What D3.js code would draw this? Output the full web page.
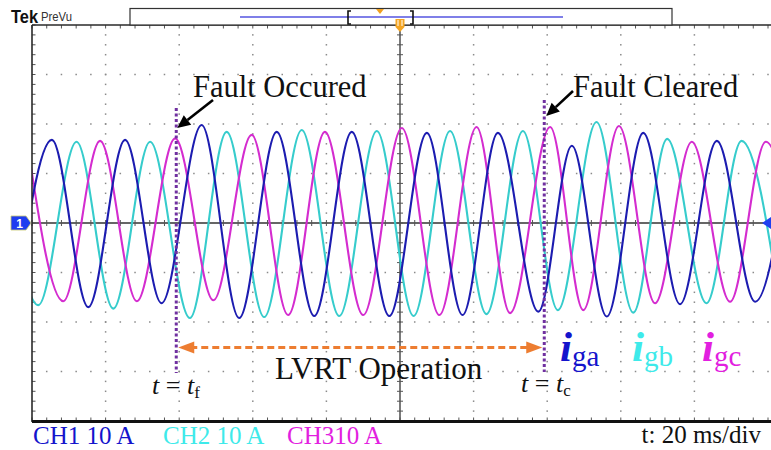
<!DOCTYPE html>
<html>
<head>
<meta charset="utf-8">
<script src="https://cdn.jsdelivr.net/npm/d3@7"></script>
<style>
  html, body { margin: 0; padding: 0; background: #fff; }
  svg { display: block; }
</style>
</head>
<body>
<svg id="scope" width="771" height="450"></svg>
<script>
// Time base 20 ms/div over 10 divisions, 10 A/div over 8 divisions
const timeDomain = [-100, 100];
const currentDomain = [-40, 40];

// Fault inception and clearing instants (ms)
const faultStart = -60.8;
const faultClear = 39.2;

// Grid currents: successive peaks and troughs of each phase, [time ms, current A]
const igaExtrema = [
  [-104.5, -17.0], [-94.6, 16.8], [-84.7, -17.0], [-74.7, 16.8], [-64.8, -16.2],
  [-53.9, 19.8], [-43.7, -19.2], [-33.5, 18.4], [-23.3, -18.8], [-13.1, 18.4],
  [-2.9, -18.8], [7.3, 18.2], [17.0, -18.6], [26.6, 18.2], [37.6, -17.9],
  [46.7, 15.6], [56.2, -18.9], [66.1, 18.2], [76.1, -16.4], [86.1, 16.6],
  [96.5, -15.9], [106.3, 16.5]
];
const igbExtrema = [
  [-108.0, 16.5], [-98.3, -16.6], [-87.9, 16.4], [-77.9, -17.3], [-67.9, 16.4],
  [-57.1, -19.2], [-47.1, 18.4], [-36.9, -19.0], [-26.7, 18.8], [-16.5, -18.8],
  [-6.3, 18.6], [3.7, -18.8], [13.6, 18.6], [23.5, -18.4], [33.4, 18.6],
  [42.9, -17.6], [53.4, 20.4], [63.4, -18.1], [72.6, 17.0], [83.3, -16.2],
  [92.8, 16.6], [103.2, -16.2]
];
const igcExtrema = [
  [-101.4, 16.8], [-91.5, -15.8], [-81.5, 16.6], [-71.5, -15.8], [-61.1, 17.1],
  [-50.7, -15.6], [-40.3, 17.8], [-30.4, -18.6], [-20.4, 18.4], [-10.0, -18.6],
  [0.5, 19.2], [10.7, -18.6], [20.8, 19.4], [29.9, -18.2], [40.8, 19.4],
  [49.8, -17.6], [59.5, 19.6], [69.3, -16.2], [79.3, 16.4], [89.7, -15.9],
  [99.4, 16.4], [109.5, -15.9]
];

const channelLabels = ["CH1 10 A", "CH2 10 A", "CH310 A"];
const timebaseLabel = "t: 20 ms/div";

const colors = {
  iga: "#1c1cb0", igb: "#36cccc", igc: "#d42ccf",
  ch1: "#1414cc", ch2: "#3eeaea", ch3: "#e21fe0",
  grid: "#8a8a8a", frame: "#2a2a2a", fault: "#7030a0", span: "#ed7d31"
};

const plot = { left: 32, right: 768, top: 25, bottom: 421 };
const hDiv = 10, vDiv = 8, sub = 5;

const svg = d3.select("#scope");
const x = d3.scaleLinear().domain(timeDomain).range([plot.left, plot.right]);
const y = d3.scaleLinear().domain(currentDomain).range([plot.bottom, plot.top]);
const serif = "'Liberation Serif', 'Times New Roman', serif";
const sans = "'Liberation Sans', Arial, sans-serif";

// ---- graticule dots ----
const grid = svg.append("g");
const xMajor = d3.range(1, hDiv).map(i => x(timeDomain[0] + i * 20));
const yMajor = d3.range(1, vDiv).map(j => y(currentDomain[0] + j * 10));
const xMinor = d3.range(0, hDiv * sub + 1).map(i => x(timeDomain[0] + i * 4));
const yMinor = d3.range(0, vDiv * sub + 1).map(j => y(currentDomain[0] + j * 2));
xMajor.forEach((gx, i) => {
  if (i === 4) return;
  grid.selectAll(null).data(yMinor.slice(1, -1)).join("rect")
    .attr("x", gx - 0.75).attr("y", d => d - 0.75).attr("width", 1.5).attr("height", 1.5)
    .attr("fill", colors.grid);
});
yMajor.forEach((gy, j) => {
  if (j === 3) return;
  grid.selectAll(null).data(xMinor.slice(1)).join("rect")
    .attr("x", d => d - 0.75).attr("y", gy - 0.75).attr("width", 1.5).attr("height", 1.5)
    .attr("fill", colors.grid);
});

// ---- centre cross with fine ticks ----
const cx = x(0), cy = y(0);
grid.append("line").attr("x1", plot.left).attr("x2", plot.right).attr("y1", cy).attr("y2", cy)
  .attr("stroke", "#333").attr("stroke-width", 1.3);
grid.append("line").attr("x1", cx).attr("x2", cx).attr("y1", plot.top).attr("y2", plot.bottom)
  .attr("stroke", "#333").attr("stroke-width", 1.3);
grid.selectAll(null).data(xMinor).join("line")
  .attr("x1", d => d).attr("x2", d => d).attr("y1", cy - 3).attr("y2", cy + 3)
  .attr("stroke", "#555").attr("stroke-width", 1);
grid.selectAll(null).data(yMinor).join("line")
  .attr("y1", d => d).attr("y2", d => d).attr("x1", cx - 3).attr("x2", cx + 3)
  .attr("stroke", "#555").attr("stroke-width", 1);

// ---- frame ticks ----
grid.selectAll(null).data(xMinor).join("line")
  .attr("x1", d => d).attr("x2", d => d).attr("y1", plot.top).attr("y2", plot.top + 3.5)
  .attr("stroke", "#555").attr("stroke-width", 1);
grid.selectAll(null).data(xMinor).join("line")
  .attr("x1", d => d).attr("x2", d => d).attr("y1", plot.bottom - 3.5).attr("y2", plot.bottom)
  .attr("stroke", "#555").attr("stroke-width", 1);
grid.selectAll(null).data(yMinor).join("line")
  .attr("y1", d => d).attr("y2", d => d).attr("x1", plot.left).attr("x2", plot.left + 3.5)
  .attr("stroke", "#555").attr("stroke-width", 1);

// ---- traces ----
svg.append("clipPath").attr("id", "screen").append("rect")
  .attr("x", plot.left).attr("y", plot.top).attr("width", 771 - plot.left).attr("height", plot.bottom - plot.top);
const line = d3.line().x(d => x(d[0])).y(d => y(d[1])).curve(d3.curveMonotoneX);
const traces = svg.append("g").attr("clip-path", "url(#screen)");
[[igbExtrema, colors.igb], [igcExtrema, colors.igc], [igaExtrema, colors.iga]].forEach(([data, c]) => {
  traces.append("path").datum(data).attr("d", line)
    .attr("fill", "none").attr("stroke", c).attr("stroke-width", 2.1)
    .attr("stroke-linejoin", "round");
});

// ---- frame ----
svg.append("line").attr("x1", plot.left).attr("x2", plot.left).attr("y1", plot.top).attr("y2", plot.bottom + 1)
  .attr("stroke", colors.frame).attr("stroke-width", 1.6);
svg.append("line").attr("x1", plot.left).attr("x2", 771).attr("y1", plot.top).attr("y2", plot.top)
  .attr("stroke", colors.frame).attr("stroke-width", 1.3);
svg.append("line").attr("x1", plot.left).attr("x2", 771).attr("y1", plot.bottom + 0.5).attr("y2", plot.bottom + 0.5)
  .attr("stroke", "#111").attr("stroke-width", 3);

// ---- header: logo and record bar ----
svg.append("text").attr("x", 11).attr("y", 23).text("Tek")
  .attr("font-family", sans).attr("font-weight", "bold").attr("font-size", 18)
  .attr("textLength", 27).attr("lengthAdjust", "spacingAndGlyphs").attr("fill", "#111");
svg.append("text").attr("x", 41).attr("y", 21).text("PreVu")
  .attr("font-family", sans).attr("font-size", 13)
  .attr("textLength", 31).attr("lengthAdjust", "spacingAndGlyphs").attr("fill", "#333");
svg.append("rect").attr("x", 130).attr("y", 8.5).attr("width", 542).attr("height", 16.5)
  .attr("fill", "#fff").attr("stroke", "#333").attr("stroke-width", 1.2);
svg.append("line").attr("x1", 240).attr("x2", 563).attr("y1", 17).attr("y2", 17)
  .attr("stroke", "#5454e0").attr("stroke-width", 1.5);
[[348, 1], [413, -1]].forEach(([bx, dir]) => {
  svg.append("path")
    .attr("d", `M${bx + 3 * dir},11 H${bx} V24 H${bx + 3 * dir}`)
    .attr("fill", "none").attr("stroke", "#111").attr("stroke-width", 1.6);
});
svg.append("path").attr("d", "M376,9 L384,9 L380,14 Z").attr("fill", "#f0a020");
svg.append("path").attr("d", `M${cx - 4.5},19 h9 v8 l-4.5,5 l-4.5,-5 Z`).attr("fill", "#f5a623");
svg.append("path").attr("d", `M${cx - 2},20 v6 M${cx + 2},20 v6`).attr("stroke", "#fff").attr("stroke-width", 1);

// ---- channel / level markers ----
svg.append("path").attr("d", `M11,${cy - 7} H26 L31,${cy} L26,${cy + 7} H11 Z`)
  .attr("fill", "#1e3cf0").attr("stroke", "#c8c870").attr("stroke-width", 0.8);
svg.append("text").attr("x", 19.5).attr("y", cy + 4.5).attr("text-anchor", "middle").text("1")
  .attr("font-family", sans).attr("font-weight", "bold")
  .attr("font-size", 12).attr("fill", "#fff");
svg.append("path").attr("d", `M762,${cy} L771,${cy - 6} L771,${cy + 6} Z`).attr("fill", "#2040f0");

// ---- fault instants ----
const xf = x(faultStart), xc = x(faultClear);
svg.append("line").attr("x1", xf).attr("x2", xf).attr("y1", 108).attr("y2", 373)
  .attr("stroke", colors.fault).attr("stroke-width", 3).attr("stroke-dasharray", "3,2.5");
svg.append("line").attr("x1", xc).attr("x2", xc).attr("y1", 100).attr("y2", 372)
  .attr("stroke", colors.fault).attr("stroke-width", 3).attr("stroke-dasharray", "3,2.5");

// LVRT span arrow
const ay = 347.5;
svg.append("line").attr("x1", xf + 14).attr("x2", xc - 14).attr("y1", ay).attr("y2", ay)
  .attr("stroke", colors.span).attr("stroke-width", 3).attr("stroke-dasharray", "7,4");
svg.append("path").attr("d", `M${xf + 2},${ay} L${xf + 18},${ay - 6} L${xf + 18},${ay + 6} Z`).attr("fill", colors.span);
svg.append("path").attr("d", `M${xc - 2},${ay} L${xc - 18},${ay - 6} L${xc - 18},${ay + 6} Z`).attr("fill", colors.span);

// callout arrows
function callout(x1, y1, x2, y2) {
  const a = Math.atan2(y2 - y1, x2 - x1), L = 13, W = 6;
  const bx = x2 - L * Math.cos(a), by = y2 - L * Math.sin(a);
  svg.append("line").attr("x1", x1).attr("y1", y1).attr("x2", bx).attr("y2", by)
    .attr("stroke", "#000").attr("stroke-width", 2.6);
  svg.append("path").attr("d",
    `M${x2},${y2} L${bx + W * Math.sin(a)},${by - W * Math.cos(a)} L${bx - W * Math.sin(a)},${by + W * Math.cos(a)} Z`)
    .attr("fill", "#000");
}
callout(213, 100, xf + 1, 128);
callout(573, 91, xc + 2, 116);

// ---- annotation text ----
const label = (tx, ty, str, size) => svg.append("text").attr("x", tx).attr("y", ty)
  .attr("font-family", serif).attr("font-size", size).attr("fill", "#111").text(str);
label(193, 97, "Fault Occured", 30.5);
label(573, 97, "Fault Cleared", 30.5);
label(275, 379, "LVRT Operation", 31);

function instant(tx, ty, subscript) {
  const t = svg.append("text").attr("x", tx).attr("y", ty)
    .attr("font-family", serif).attr("font-size", 26).attr("fill", "#111");
  t.append("tspan").attr("font-style", "italic").text("t");
  t.append("tspan").text(" = ");
  t.append("tspan").attr("font-style", "italic").text("t");
  t.append("tspan").attr("font-size", 17).attr("dy", 4).text(subscript);
}
instant(152, 394, "f");
instant(521, 392, "c");

function phaseLabel(tx, ty, sub, c) {
  const t = svg.append("text").attr("x", tx).attr("y", ty)
    .attr("font-family", serif).attr("fill", c);
  t.append("tspan").attr("font-style", "italic").attr("font-weight", "bold").attr("font-size", 43).text("i");
  t.append("tspan").attr("font-size", 29).attr("dy", 5).text(sub);
}
phaseLabel(560, 361, "ga", colors.ch1);
phaseLabel(632, 361, "gb", colors.ch2);
phaseLabel(702, 361, "gc", colors.ch3);

// ---- status line ----
const chX = [33, 163, 287];
const chCol = [colors.ch1, colors.ch2, colors.ch3];
channelLabels.forEach((s, i) => {
  svg.append("text").attr("x", chX[i]).attr("y", 444).text(s)
    .attr("font-family", serif).attr("font-size", 25).attr("fill", chCol[i]);
});
svg.append("text").attr("x", 761).attr("y", 443).attr("text-anchor", "end").text(timebaseLabel)
  .attr("font-family", serif).attr("font-size", 25).attr("fill", "#111");
</script>
</body>
</html>
